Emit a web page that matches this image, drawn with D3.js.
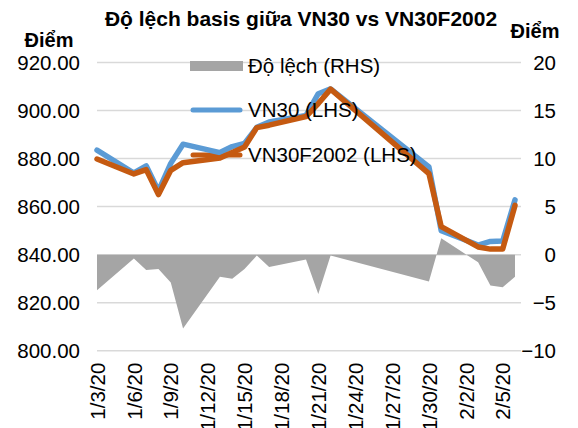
<!DOCTYPE html>
<html>
<head>
<meta charset="utf-8">
<script src="https://cdn.jsdelivr.net/npm/d3@7"></script>
<style>
  body { margin: 0; background: #fff; }
  text { font-family: Arial, "Liberation Sans", sans-serif; fill: #000; }
</style>
</head>
<body>
<svg id="chart" width="578" height="428"></svg>
<script>
// trading days (Tet holiday gap 1/23 - 1/29)
const dates = ["2020-01-03","2020-01-06","2020-01-07","2020-01-08","2020-01-09","2020-01-10",
  "2020-01-13","2020-01-14","2020-01-15","2020-01-16","2020-01-17","2020-01-20","2020-01-21",
  "2020-01-22","2020-01-30","2020-01-31","2020-02-03","2020-02-04","2020-02-05","2020-02-06"]
const vn30 = [883.5, 874, 877, 866.5, 878, 886, 882.5, 885, 886.3, 893, 895.2, 898, 907, 909,
  876.5, 850, 844, 845.5, 845.7, 862.8]
const vn30f = [879.8, 873.6, 875.4, 865, 875.1, 878.3, 880.2, 882.5, 884.8, 892.9, 893.9, 897.5, 902.9, 908.9,
  873.7, 851.7, 843.2, 842.3, 842.3, 860.5]
const devs = [-3.7, -0.4, -1.6, -1.5, -2.9, -7.7, -2.3, -2.5, -1.5, -0.1, -1.3, -0.5, -4.1, -0.1,
  -2.8, 1.7, -0.8, -3.2, -3.4, -2.3]
const leftTicks = [800, 820, 840, 860, 880, 900, 920]
const rightTicks = [-10, -5, 0, 5, 10, 15, 20]
const tickDates = ["2020-01-03","2020-01-06","2020-01-09","2020-01-12","2020-01-15","2020-01-18",
  "2020-01-21","2020-01-24","2020-01-27","2020-01-30","2020-02-02","2020-02-05"]

const parse = d3.utcParse("%Y-%m-%d")
const data = dates.map((d, i) => ({ date: parse(d), vn30: vn30[i], vn30f: vn30f[i], dev: devs[i] }))

const svg = d3.select("#chart")
const x = d3.scaleUtc()
    .domain([parse("2020-01-03"), parse("2020-02-06")])
    .range([97, 515])
const y = d3.scaleLinear().domain([800, 920]).range([350.7, 62.5])
const yR = d3.scaleLinear().domain([-10, 20]).range([350.7, 62.5])

// gridlines
svg.append("g")
  .selectAll("line")
  .data(leftTicks)
  .join("line")
    .attr("x1", 97).attr("x2", 521)
    .attr("y1", d => y(d)).attr("y2", d => y(d))
    .attr("stroke", "#d9d9d9")
    .attr("stroke-width", 1.5)

// left axis
const yAxis = g => g
    .attr("transform", "translate(97,0)")
    .call(d3.axisLeft(y).tickValues(leftTicks).tickFormat(d3.format(".2f")).tickSize(0).tickPadding(17))
    .call(g => g.select(".domain").remove())
    .call(g => g.selectAll("text").attr("font-size", 20.5).attr("font-family", null))
svg.append("g").call(yAxis)

// right axis
const yAxisR = g => g
    .attr("transform", "translate(556,0)")
    .call(d3.axisLeft(yR).tickValues(rightTicks).tickSize(0).tickPadding(0))
    .call(g => g.select(".domain").remove())
    .call(g => g.selectAll("text").attr("font-size", 20.5).attr("font-family", null))
svg.append("g").call(yAxisR)

// x axis
const xAxis = g => g
    .attr("transform", `translate(0,${y(800)})`)
    .call(d3.axisBottom(x).tickValues(tickDates.map(parse)).tickFormat(d3.utcFormat("%-m/%-d/%y")).tickSize(0))
    .call(g => g.select(".domain").remove())
    .call(g => g.selectAll("text")
        .attr("font-size", 20.5).attr("font-family", null)
        .attr("transform", "rotate(-90)")
        .attr("text-anchor", "end")
        .attr("x", -12).attr("y", 0).attr("dy", "0.35em"))
svg.append("g").call(xAxis)

// deviation area (RHS)
svg.append("path")
    .datum(data)
    .attr("fill", "#a5a5a5")
    .attr("d", d3.area().x(d => x(d.date)).y0(yR(0)).y1(d => yR(d.dev)))

// legend
const legendX = 190
svg.append("rect")
    .attr("x", legendX).attr("y", 61).attr("width", 53).attr("height", 10)
    .attr("fill", "#a5a5a5")
const legendLines = [
  { y: 110, color: "#5b9bd5", label: "VN30 (LHS)" },
  { y: 155, color: "#c55a11", label: "VN30F2002 (LHS)" }
]
svg.append("g")
  .selectAll("line")
  .data(legendLines)
  .join("line")
    .attr("x1", legendX + 3).attr("x2", legendX + 50)
    .attr("y1", d => d.y).attr("y2", d => d.y)
    .attr("stroke", d => d.color).attr("stroke-width", 5).attr("stroke-linecap", "round")

// lines
const line = key => d3.line().x(d => x(d.date)).y(d => y(d[key]))
svg.append("path")
    .datum(data)
    .attr("fill", "none")
    .attr("stroke", "#5b9bd5")
    .attr("stroke-width", 5.5)
    .attr("stroke-linejoin", "round")
    .attr("stroke-linecap", "round")
    .attr("d", line("vn30"))
svg.append("path")
    .datum(data)
    .attr("fill", "none")
    .attr("stroke", "#c55a11")
    .attr("stroke-width", 5.5)
    .attr("stroke-linejoin", "round")
    .attr("stroke-linecap", "round")
    .attr("d", line("vn30f"))

// legend texts
svg.append("text").attr("x", 248).attr("y", 66).attr("dy", "0.35em")
    .attr("font-size", 20.5).text("Độ lệch (RHS)")
svg.selectAll(".lg")
  .data(legendLines)
  .join("text")
    .attr("x", 248).attr("y", d => d.y).attr("dy", "0.35em")
    .attr("font-size", 20.5)
    .text(d => d.label)

// titles
svg.append("text").attr("x", 301).attr("y", 26)
    .attr("text-anchor", "middle").attr("font-size", 21).attr("font-weight", "bold")
    .text("Độ lệch basis giữa VN30 vs VN30F2002")
svg.append("text").attr("x", 49).attr("y", 47)
    .attr("text-anchor", "middle").attr("font-size", 20).attr("font-weight", "bold")
    .text("Điểm")
svg.append("text").attr("x", 535).attr("y", 38)
    .attr("text-anchor", "middle").attr("font-size", 20).attr("font-weight", "bold")
    .text("Điểm")
</script>
</body>
</html>
